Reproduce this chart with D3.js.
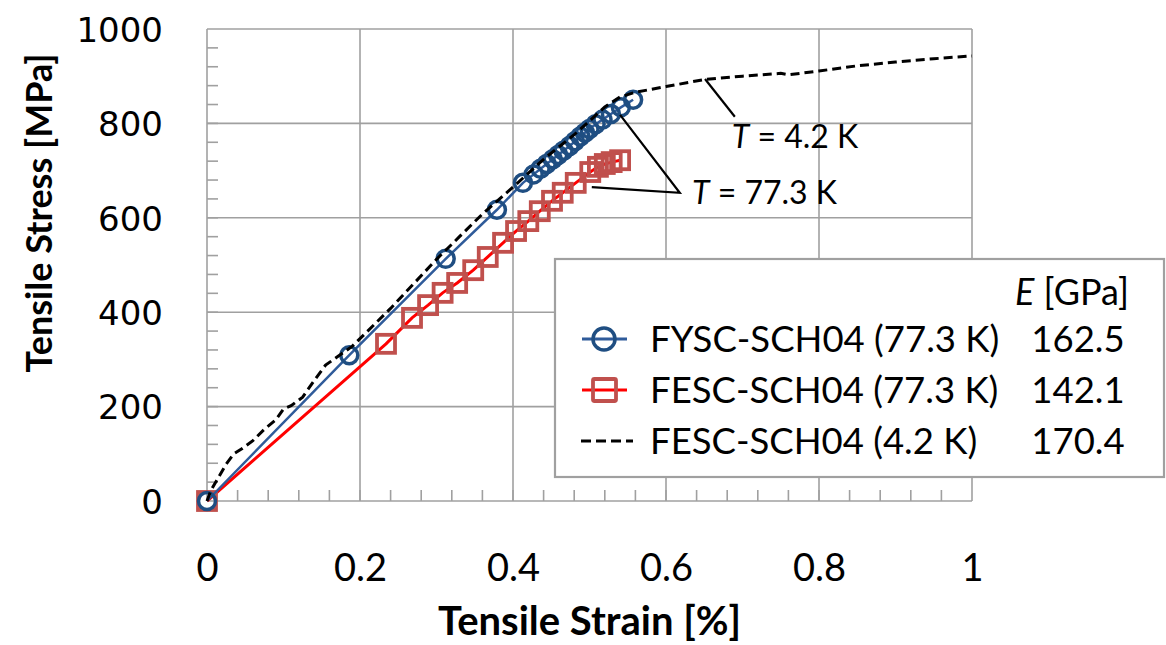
<!DOCTYPE html>
<html>
<head>
<meta charset="utf-8">
<script src="https://cdn.jsdelivr.net/npm/d3@7"></script>
<style>
  body { margin: 0; background: #fff; }
  svg { display: block; }
</style>
</head>
<body>
<div id="chart"></div>
<script>
// data
var strainFYSC = [0, 0.186, 0.312, 0.379, 0.413, 0.427, 0.436, 0.444, 0.452, 0.459, 0.466, 0.474, 0.481, 0.488, 0.494, 0.500, 0.508, 0.517, 0.528, 0.541, 0.557];
var stressFYSC = [0, 309, 513, 617, 674, 692, 704, 714, 724, 733, 742, 752, 762, 772, 780, 788, 798, 808, 820, 834, 850];

var strainFESC77 = [0, 0.234, 0.268, 0.289, 0.308, 0.327, 0.348, 0.367, 0.387, 0.404, 0.420, 0.435, 0.451, 0.465, 0.482, 0.501, 0.511, 0.520, 0.529, 0.540];
var stressFESC77 = [0, 333, 388, 415, 441, 462, 489, 517, 547, 572, 593, 614, 636, 653, 674, 697, 708, 714, 718, 722];

var strainFESC4 = [0, 0.005, 0.015, 0.025, 0.035, 0.045, 0.06, 0.075, 0.09, 0.1, 0.11, 0.125, 0.14, 0.155, 0.17, 0.19, 0.21, 0.24, 0.27, 0.3, 0.33, 0.36, 0.4, 0.44, 0.48, 0.5, 0.52, 0.54, 0.56, 0.6, 0.65, 0.7, 0.75, 0.76, 0.8, 0.85, 0.9, 0.95, 1.0];
var stressFESC4 = [0, 22, 50, 78, 100, 110, 128, 152, 172, 195, 202, 220, 255, 288, 305, 328, 360, 408, 460, 512, 560, 608, 665, 724, 776, 805, 835, 856, 866, 878, 893, 900, 906, 903, 911, 922, 930, 937, 943];

var legendNames = ["FYSC-SCH04 (77.3 K)", "FESC-SCH04 (77.3 K)", "FESC-SCH04 (4.2 K)"];
var modulusE = ["162.5", "142.1", "170.4"];

var xTicks = [0, 0.2, 0.4, 0.6, 0.8, 1];
var yTicks = [0, 200, 400, 600, 800, 1000];

var svgWidth = 1166;
var svgHeight = 645;
var margin = { top: 29, right: 194, bottom: 144, left: 207 };
var chartWidth = svgWidth - margin.left - margin.right;
var chartHeight = svgHeight - margin.top - margin.bottom;

var svg = d3.select("#chart")
    .append("svg")
    .attr("width", svgWidth)
    .attr("height", svgHeight);

var chartGroup = svg.append("g")
    .attr("transform", `translate(${margin.left}, ${margin.top})`);

var xScale = d3.scaleLinear().domain([0, 1]).range([0, chartWidth]);
var yScale = d3.scaleLinear().domain([0, 1000]).range([chartHeight, 0]);

var gridColor = "#a0a0a0";

// gridlines
chartGroup.selectAll(".vgrid")
    .data(xTicks)
    .enter()
    .append("line")
    .attr("x1", d => xScale(d)).attr("x2", d => xScale(d))
    .attr("y1", 0).attr("y2", chartHeight)
    .attr("stroke", gridColor)
    .attr("stroke-width", 1.6);

chartGroup.selectAll(".hgrid")
    .data(yTicks)
    .enter()
    .append("line")
    .attr("x1", 0).attr("x2", chartWidth)
    .attr("y1", d => yScale(d)).attr("y2", d => yScale(d))
    .attr("stroke", gridColor)
    .attr("stroke-width", 1.6);

// minor ticks, pointing inward
chartGroup.selectAll(".xminor")
    .data(d3.range(1, 25).map(i => i * 0.04))
    .enter()
    .append("line")
    .attr("x1", d => xScale(d)).attr("x2", d => xScale(d))
    .attr("y1", chartHeight).attr("y2", chartHeight - 11)
    .attr("stroke", gridColor)
    .attr("stroke-width", 1.6);

chartGroup.selectAll(".yminor")
    .data(d3.range(1, 25).map(i => i * 40))
    .enter()
    .append("line")
    .attr("x1", 0).attr("x2", 11)
    .attr("y1", d => yScale(d)).attr("y2", d => yScale(d))
    .attr("stroke", gridColor)
    .attr("stroke-width", 1.6);

// tick labels via axes
var xAxis = d3.axisBottom(xScale).tickValues(xTicks).tickSize(0).tickFormat(d3.format("~g"));
var yAxis = d3.axisLeft(yScale).tickValues(yTicks).tickSize(0).tickFormat(d3.format("d"));

var gx = chartGroup.append("g")
    .attr("transform", `translate(0, ${chartHeight})`)
    .call(xAxis);
gx.select(".domain").remove();
gx.selectAll("text")
    .attr("y", 0)
    .attr("dy", "80px")
    .attr("font-family", "Lato, sans-serif")
    .attr("font-size", "38px")
    .attr("fill", "#000");

var gy = chartGroup.append("g").call(yAxis);
gy.select(".domain").remove();
gy.selectAll("text")
    .attr("x", -44)
    .attr("dy", "0.36em")
    .attr("font-family", "'DejaVu Sans', sans-serif")
    .attr("font-size", "34px")
    .attr("fill", "#000");

// series
var line = d3.line()
    .x(d => xScale(d[0]))
    .y(d => yScale(d[1]));

var fysc = d3.zip(strainFYSC, stressFYSC);
var fesc77 = d3.zip(strainFESC77, stressFESC77);
var fesc4 = d3.zip(strainFESC4, stressFESC4);

chartGroup.append("path")
    .datum(fesc77)
    .attr("d", line)
    .attr("fill", "none")
    .attr("stroke", "#ff0000")
    .attr("stroke-width", 3);

chartGroup.selectAll(".sq")
    .data(fesc77)
    .enter()
    .append("rect")
    .attr("x", d => xScale(d[0]) - 9)
    .attr("y", d => yScale(d[1]) - 9)
    .attr("width", 18)
    .attr("height", 18)
    .attr("fill", "none")
    .attr("stroke", "#c0504d")
    .attr("stroke-width", 3.8);

chartGroup.append("path")
    .datum(fysc)
    .attr("d", line)
    .attr("fill", "none")
    .attr("stroke", "#2f5b9a")
    .attr("stroke-width", 2.5);

chartGroup.selectAll(".circ")
    .data(fysc)
    .enter()
    .append("circle")
    .attr("cx", d => xScale(d[0]))
    .attr("cy", d => yScale(d[1]))
    .attr("r", 8.5)
    .attr("fill", "none")
    .attr("stroke", "#1f4e82")
    .attr("stroke-width", 3.5);

chartGroup.append("path")
    .datum(fesc4)
    .attr("d", line)
    .attr("fill", "none")
    .attr("stroke", "#000")
    .attr("stroke-width", 3)
    .attr("stroke-dasharray", "9,5");

// annotations
var leader = chartGroup.append("g")
    .attr("stroke", "#000")
    .attr("stroke-width", 2.2)
    .attr("fill", "none");
leader.append("line")
    .attr("x1", xScale(0.651)).attr("y1", yScale(894))
    .attr("x2", xScale(0.690)).attr("y2", yScale(814));
leader.append("polyline")
    .attr("points", [[xScale(0.540), yScale(818)], [xScale(0.618), yScale(653)], [xScale(0.503), yScale(665)]].join(" "));

function tLabel(x, y, rest) {
    var t = chartGroup.append("text")
        .attr("x", xScale(x))
        .attr("y", yScale(y))
        .attr("font-family", "Lato, sans-serif")
        .attr("font-size", "32px")
        .attr("fill", "#000");
    t.append("tspan").attr("font-style", "italic").text("T");
    t.append("tspan").text(" = " + rest);
}
tLabel(0.686, 747, "4.2 K");
tLabel(0.634, 629, "77.3 K");

// axis titles
svg.append("text")
    .attr("x", margin.left + chartWidth / 2)
    .attr("y", 635)
    .attr("text-anchor", "middle")
    .attr("font-family", "Lato, sans-serif")
    .attr("font-weight", "bold")
    .attr("font-size", "40px")
    .text("Tensile Strain [%]");

svg.append("text")
    .attr("transform", "translate(52, 213) rotate(-90)")
    .attr("text-anchor", "middle")
    .attr("font-family", "Lato, sans-serif")
    .attr("font-weight", "bold")
    .attr("font-size", "36px")
    .text("Tensile Stress [MPa]");

// legend
var legend = svg.append("g");
legend.append("rect")
    .attr("x", 555).attr("y", 259)
    .attr("width", 609).attr("height", 218)
    .attr("fill", "#fff")
    .attr("stroke", "#a0a0a0")
    .attr("stroke-width", 2.2);

var head = legend.append("text")
    .attr("x", 1015).attr("y", 305)
    .attr("font-family", "Lato, sans-serif")
    .attr("font-size", "36px");
head.append("tspan").attr("font-style", "italic").text("E");
head.append("tspan").text(" [GPa]");

var rowY = [352, 403, 454];
legendNames.forEach(function(name, i) {
    var cy = rowY[i] - 13;
    if (i === 0) {
        legend.append("line").attr("x1", 582).attr("x2", 627).attr("y1", cy).attr("y2", cy)
            .attr("stroke", "#2f5b9a").attr("stroke-width", 3);
        legend.append("circle").attr("cx", 604).attr("cy", cy).attr("r", 11)
            .attr("fill", "none").attr("stroke", "#1f4e82").attr("stroke-width", 3.5);
    } else if (i === 1) {
        legend.append("line").attr("x1", 582).attr("x2", 627).attr("y1", cy).attr("y2", cy)
            .attr("stroke", "#ff0000").attr("stroke-width", 3);
        legend.append("rect").attr("x", 593).attr("y", cy - 11).attr("width", 23).attr("height", 22)
            .attr("fill", "none").attr("stroke", "#c0504d").attr("stroke-width", 3.8).attr("rx", 1.5);
    } else {
        legend.append("line").attr("x1", 581).attr("x2", 633).attr("y1", cy).attr("y2", cy)
            .attr("stroke", "#000").attr("stroke-width", 3.2).attr("stroke-dasharray", "10,5");
    }
    legend.append("text")
        .attr("x", 650).attr("y", rowY[i])
        .attr("font-family", "Lato, sans-serif")
        .attr("font-size", "36.5px")
        .text(name);
    legend.append("text")
        .attr("x", 1078).attr("y", rowY[i])
        .attr("text-anchor", "middle")
        .attr("font-family", "Lato, sans-serif")
        .attr("font-size", "36.5px")
        .text(modulusE[i]);
});
</script>
</body>
</html>
